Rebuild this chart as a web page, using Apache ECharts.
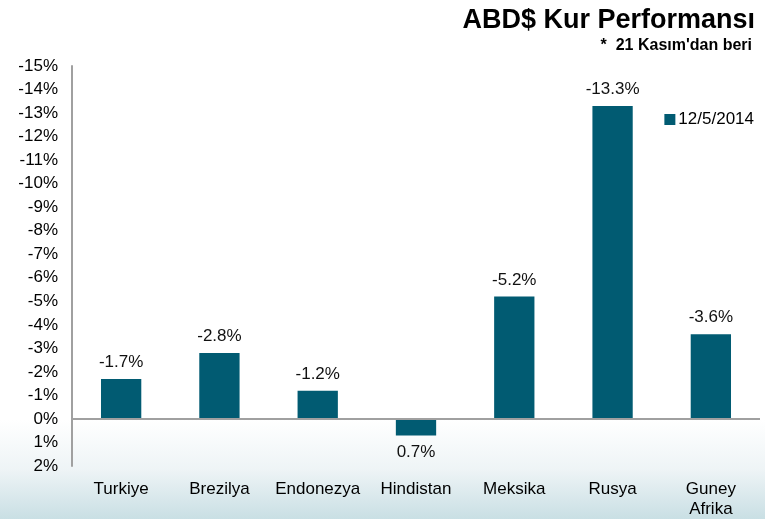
<!DOCTYPE html>
<html>
<head>
<meta charset="utf-8">
<script src="https://cdn.jsdelivr.net/npm/echarts@6/dist/echarts.min.js"></script>
<style>
html,body{margin:0;padding:0;background:#fff;}
#main{width:765px;height:519px;}
</style>
</head>
<body>
<div id="main"></div>
<script>
var categories = ['Turkiye', 'Brezilya', 'Endonezya', 'Hindistan', 'Meksika', 'Rusya', 'Guney\nAfrika'];
var values = [-1.7, -2.8, -1.2, 0.7, -5.2, -13.3, -3.6];
var seriesName = '12/5/2014';

var chart = echarts.init(document.getElementById('main'));

var barData = values.map(function (v) {
    return {
        value: v,
        label: {position: v > 0 ? 'bottom' : 'top'}
    };
});

var option = {
    backgroundColor: '#fff',
    textStyle: {fontFamily: 'Liberation Sans, Arial, sans-serif'},
    graphic: [{
        type: 'rect',
        z: -10,
        silent: true,
        shape: {x: 0, y: 420, width: 765, height: 99},
        style: {
            fill: new echarts.graphic.LinearGradient(0, 0, 0, 1, [
                {offset: 0, color: '#ffffff'},
                {offset: 0.5, color: '#eef4f6'},
                {offset: 1, color: '#c9dfe4'}
            ])
        }
    }],
    title: [{
        text: 'ABD$ Kur Performansı',
        right: 5,
        top: 2,
        textStyle: {fontSize: 27, fontWeight: 'bold', color: '#000', letterSpacing: -1}
    }, {
        text: "*  21 Kasım'dan beri",
        right: 8,
        top: 33,
        textStyle: {fontSize: 16, fontWeight: 'bold', color: '#000'}
    }],
    legend: {
        data: [seriesName],
        icon: 'rect',
        right: 6,
        top: 106,
        itemWidth: 11,
        itemHeight: 11,
        itemGap: 4,
        textStyle: {fontSize: 17, color: '#000', padding: [0, 0, 0, -2]}
    },
    grid: {left: 72, right: 5, top: 66, bottom: 52},
    xAxis: {
        type: 'category',
        data: categories,
        axisLine: {show: false},
        axisTick: {show: false},
        axisLabel: {interval: 0, fontSize: 17, color: '#000', margin: 13, lineHeight: 20}
    },
    yAxis: {
        type: 'value',
        inverse: true,
        min: -15,
        max: 2,
        interval: 1,
        axisLine: {show: true, lineStyle: {color: '#a0a0a0', width: 2}},
        axisTick: {show: false},
        splitLine: {show: false},
        axisLabel: {
            fontSize: 17,
            color: '#000',
            margin: 14,
            formatter: function (v) { return v + '%'; }
        }
    },
    series: [{
        name: seriesName,
        type: 'bar',
        data: barData,
        barWidth: '41%',
        itemStyle: {color: '#015b72'},
        label: {
            show: true,
            fontSize: 17,
            color: '#111',
            distance: 8,
            formatter: function (p) { return p.value + '%'; }
        },
        markLine: {
            silent: true,
            symbol: 'none',
            label: {show: false},
            lineStyle: {color: '#a0a0a0', width: 2, type: 'solid'},
            data: [{yAxis: 0}]
        }
    }]
};
chart.setOption(option);
</script>
</body>
</html>
